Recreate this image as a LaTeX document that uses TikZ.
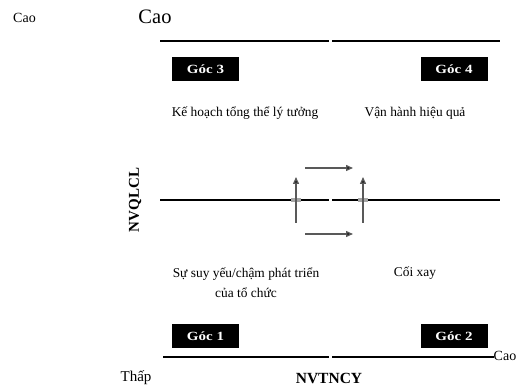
\documentclass[tikz,border=0pt]{standalone}
\usepackage{fontspec}
\setmainfont{Liberation Serif}
\usetikzlibrary{arrows.meta}
\begin{document}
\begin{tikzpicture}[x=1pt,y=-1pt,
  axis/.style={line width=1.2pt,black},
  corner/.style={fill=black,text=white,font=\bfseries\fontsize{12.5}{14}\selectfont,minimum width=67pt,minimum height=24pt,inner sep=0pt},
  label/.style={font=\fontsize{13.4}{20}\selectfont,align=center},
  flow/.style={line width=1.4pt,draw=black!65,-{Triangle[length=7pt,width=6pt,fill=black]}},
  crossmark/.style={fill=black!35,minimum width=10pt,minimum height=4pt,inner sep=0pt}
]
\useasboundingbox (0,0) rectangle (524,387);

% frame lines with a small break in the middle
\draw[axis] (160,41) -- (329,41);
\draw[axis] (332,41) -- (500,41);
\draw[axis] (160,200) -- (329,200);
\draw[axis] (332,200) -- (500,200);
\draw[axis] (163,357) -- (329,357);
\draw[axis] (332,357) -- (494,357);

% corner boxes
\node[corner] (g3) at (205.5,69) {\scalebox{1.2}[1]{Góc 3}};
\node[corner] (g4) at (454,69) {\scalebox{1.2}[1]{Góc 4}};
\node[corner] (g1) at (205.5,336) {\scalebox{1.2}[1]{Góc 1}};
\node[corner] (g2) at (454,336) {\scalebox{1.2}[1]{Góc 2}};

% quadrant labels
\node[label] (q3) at (245,113) {Kế hoạch tổng thể lý tưởng};
\node[label] (q4) at (415,113) {Vận hành hiệu quả};
\node[label] (q1) at (246,283) {Sự suy yếu/chậm phát triển\\của tổ chức};
\node[label] (q2) at (415,273) {Cối xay};

% axis labels
\node[font=\fontsize{14}{16}\selectfont] (c0) at (24.5,18) {Cao};
\node[font=\fontsize{20.5}{24}\selectfont] (c1) at (155,17) {Cao};
\node[font=\fontsize{14}{16}\selectfont] (c2) at (505,356) {Cao};
\node[font=\fontsize{15}{17}\selectfont] (lo) at (136,378) {Thấp};
\node[font=\bfseries\fontsize{15.5}{17}\selectfont] (xa) at (329,378) {NVTNCY};
\node[font=\bfseries\fontsize{15}{17}\selectfont,rotate=90] (ya) at (135,200) {NVQLCL};

% movement arrows around the centre
\node[crossmark] (m1) at (296,200) {};
\node[crossmark] (m2) at (363,200) {};
\coordinate (v1a) at (296,223);
\coordinate (v1b) at (296,177);
\coordinate (v2a) at (363,223);
\coordinate (v2b) at (363,177);
\coordinate (h1a) at (305,168);
\coordinate (h1b) at (353,168);
\coordinate (h2a) at (305,234);
\coordinate (h2b) at (353,234);
\draw[flow] (v1a) -- (v1b);
\draw[flow] (v2a) -- (v2b);
\draw[flow] (h1a) -- (h1b);
\draw[flow] (h2a) -- (h2b);
\end{tikzpicture}
\end{document}
